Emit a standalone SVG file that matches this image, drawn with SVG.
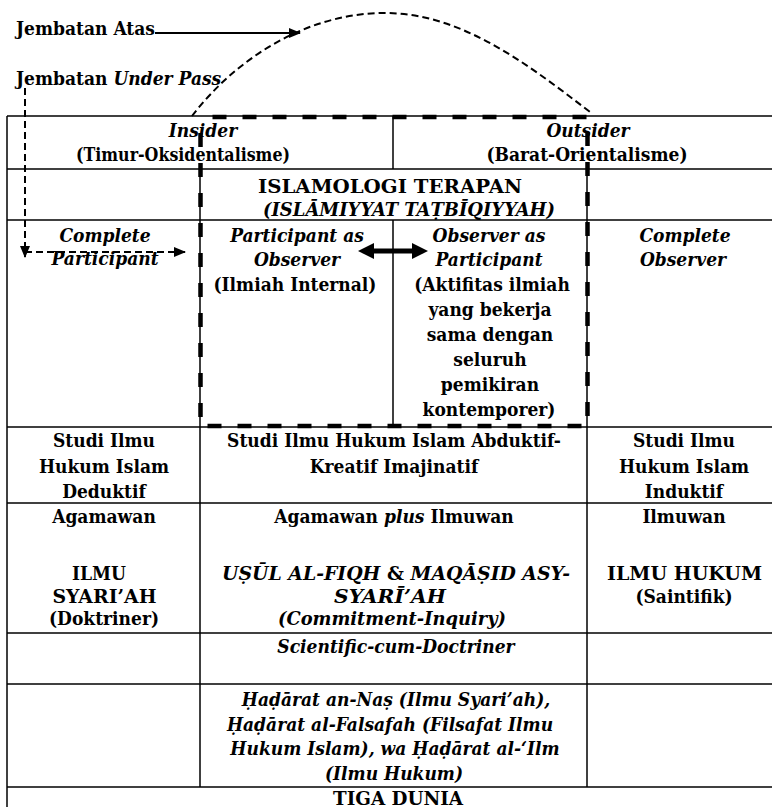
<svg xmlns="http://www.w3.org/2000/svg" width="772" height="807" viewBox="0 0 772 807">
  <style>
    text { font-family: "DejaVu Serif Condensed", "DejaVu Serif", serif; font-stretch: condensed; font-size: 19px; font-weight: bold; fill: #000; text-anchor: middle; }
    .l { text-anchor: start; }
    .i { font-style: italic; }
    .w { font-family: "DejaVu Serif", serif; font-stretch: normal; }
    .grid line { stroke: #000; stroke-width: 1.5; }
    .frame { fill: none; stroke: #000; stroke-width: 4.5; stroke-dasharray: 14 16; stroke-dashoffset: 18; }
    .bridge { fill: none; stroke: #000; stroke-width: 2; stroke-dasharray: 7 4; }
    .solid { fill: none; stroke: #000; stroke-width: 2; }
  </style>
  <defs>
    <marker id="head" viewBox="0 0 12 10" refX="11" refY="5" markerWidth="12" markerHeight="10" markerUnits="userSpaceOnUse" orient="auto">
      <path d="M0,0 L12,5 L0,10 z" fill="#000" stroke="none"/>
    </marker>
  </defs>

  <rect x="0" y="0" width="772" height="807" fill="#fff"/>

  <!-- table rules -->
  <g class="grid">
    <line x1="7" y1="116" x2="772" y2="116"/>
    <line x1="7" y1="169" x2="772" y2="169"/>
    <line x1="7" y1="220" x2="772" y2="220"/>
    <line x1="7" y1="427" x2="772" y2="427"/>
    <line x1="7" y1="503" x2="772" y2="503"/>
    <line x1="7" y1="633" x2="772" y2="633"/>
    <line x1="7" y1="684" x2="772" y2="684"/>
    <line x1="7" y1="787" x2="772" y2="787"/>
    <line x1="7" y1="116" x2="7" y2="807"/>
    <line x1="200" y1="169" x2="200" y2="787"/>
    <line x1="393" y1="116" x2="393" y2="169"/>
    <line x1="393" y1="220" x2="393" y2="427"/>
    <line x1="587" y1="169" x2="587" y2="787"/>
  </g>

  <!-- labels above the table -->
  <g id="jembatan-atas">
    <text class="l" x="16" y="35">Jembatan Atas</text>
  </g>
  <g id="jembatan-underpass">
    <text class="l" x="16" y="85">Jembatan <tspan class="i">Under Pass</tspan></text>
  </g>

  <!-- row 1 -->
  <g id="insider">
    <text class="i" x="203" y="137">Insider</text>
    <text x="183" y="161" textLength="214" lengthAdjust="spacingAndGlyphs">(Timur-Oksidentalisme)</text>
  </g>
  <g id="outsider">
    <text class="i" x="588" y="137">Outsider</text>
    <text x="587" y="161">(Barat-Orientalisme)</text>
  </g>

  <!-- row 2 -->
  <g id="islamologi">
    <text class="w" x="390" y="193" textLength="264" lengthAdjust="spacingAndGlyphs">ISLAMOLOGI TERAPAN</text>
    <text class="i" x="409" y="216" textLength="292" lengthAdjust="spacingAndGlyphs">(ISLĀMIYYAT TAṬBĪQIYYAH)</text>
  </g>

  <!-- row 3 -->
  <g id="complete-participant">
    <text class="i" x="105" y="242">Complete</text>
    <text class="i" x="105" y="265">Participant</text>
  </g>
  <g id="participant-as-observer">
    <text class="i" x="297" y="242">Participant as</text>
    <text class="i" x="297" y="266">Observer</text>
    <text x="295" y="291">(Ilmiah Internal)</text>
  </g>
  <g id="observer-as-participant">
    <text class="i" x="489" y="242">Observer as</text>
    <text class="i" x="489" y="266">Participant</text>
    <text x="492" y="291">(Aktifitas ilmiah</text>
    <text x="490" y="316">yang bekerja</text>
    <text x="490" y="341">sama dengan</text>
    <text x="490" y="366">seluruh</text>
    <text x="490" y="391">pemikiran</text>
    <text x="489" y="416">kontemporer)</text>
  </g>
  <g id="complete-observer">
    <text class="i" x="685" y="242">Complete</text>
    <text class="i" x="683" y="266">Observer</text>
  </g>

  <!-- row 4 -->
  <g id="deduktif">
    <text x="104" y="447">Studi Ilmu</text>
    <text x="104" y="473">Hukum Islam</text>
    <text x="104" y="498">Deduktif</text>
  </g>
  <g id="abduktif">
    <text x="394" y="447">Studi Ilmu Hukum Islam Abduktif-</text>
    <text x="394" y="473">Kreatif Imajinatif</text>
  </g>
  <g id="induktif">
    <text x="684" y="447">Studi Ilmu</text>
    <text x="684" y="473">Hukum Islam</text>
    <text x="684" y="498">Induktif</text>
  </g>

  <!-- row 5 -->
  <g id="ilmu-syariah">
    <text x="104" y="523">Agamawan</text>
    <text class="w" x="99" y="580" textLength="54" lengthAdjust="spacingAndGlyphs">ILMU</text>
    <text class="w" x="104.5" y="603" textLength="104" lengthAdjust="spacingAndGlyphs">SYARI’AH</text>
    <text x="104" y="625">(Doktriner)</text>
  </g>
  <g id="usul-maqasid">
    <text x="394" y="523">Agamawan <tspan class="i">plus</tspan> Ilmuwan</text>
    <text class="w" x="396" y="580" textLength="348" lengthAdjust="spacingAndGlyphs"><tspan class="i">UṢŪL AL-FIQH</tspan> &amp; <tspan class="i">MAQĀṢID ASY-</tspan></text>
    <text class="i w" x="390" y="603" textLength="112" lengthAdjust="spacingAndGlyphs">SYARĪ’AH</text>
    <text class="i" x="392" y="625" textLength="228" lengthAdjust="spacingAndGlyphs">(Commitment-Inquiry)</text>
  </g>
  <g id="ilmu-hukum">
    <text x="684" y="523">Ilmuwan</text>
    <text class="w" x="684.5" y="580" textLength="155" lengthAdjust="spacingAndGlyphs">ILMU HUKUM</text>
    <text x="684" y="603">(Saintifik)</text>
  </g>

  <!-- row 6 -->
  <g id="scientific-cum-doctriner">
    <text class="i" x="396" y="653">Scientific-cum-Doctriner</text>
  </g>

  <!-- row 7 -->
  <g id="hadarat">
    <text class="i" x="396" y="706">Ḥaḍārat an-Naṣ (Ilmu Syari’ah),</text>
    <text class="i" x="390" y="731">Ḥaḍārat al-Falsafah (Filsafat Ilmu</text>
    <text class="i" x="395" y="755">Hukum Islam), wa Ḥaḍārat al-‘Ilm</text>
    <text class="i" x="394" y="780">(Ilmu Hukum)</text>
  </g>

  <!-- row 8 -->
  <g id="tiga-dunia">
    <text class="w" x="398" y="805" textLength="130" lengthAdjust="spacingAndGlyphs">TIGA DUNIA</text>
  </g>

  <!-- bridges, frame and arrows -->
  <g id="connectors">
    <rect class="frame" x="200.5" y="117" width="387" height="309"/>
    <path class="bridge" d="M192,116 C235,60 305,13 385,13 C460,13 525,62 590,112"/>
    <path class="solid" d="M155,33 L300,33" marker-end="url(#head)"/>
    <path class="bridge" d="M25,88 L25,257" marker-end="url(#head)"/>
    <path class="bridge" d="M25,252 L185,252" marker-end="url(#head)"/>
    <polygon points="358,251 374,243 374,248.5 412,248.5 412,243 428,251 412,259 412,253.5 374,253.5 374,259" fill="#000"/>
  </g>
</svg>
